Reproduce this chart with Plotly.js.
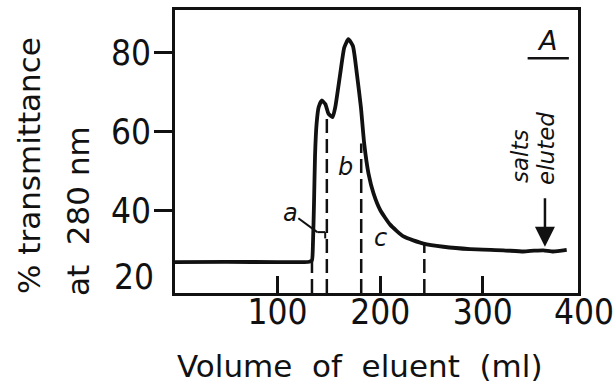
<!DOCTYPE html>
<html>
<head>
<meta charset="utf-8">
<script src="https://cdn.plot.ly/plotly-3.0.1.min.js"></script>
<style>html,body{margin:0;padding:0;background:#fff;}#chart{width:616px;height:388px;}</style>
</head>
<body>
<div id="chart"></div>
<script>
// Elution profile (volume in ml, % transmittance at 280 nm)
const volume = [0, 50, 100, 131, 133.5, 134.5, 135.5, 136.5, 138, 140, 143, 146.5, 149.7, 153.6, 156.2, 161, 165, 169, 173.4, 177.3, 181.2, 184.4, 188.6, 193.5, 200, 209.7, 222.7, 242.2, 261.6, 287.6, 320, 339.5, 350, 359, 368.7, 381.8];
const transmittance = [27.0, 27.1, 27.0, 27.1, 27.5, 32, 42, 54, 62, 66.2, 67.9, 67.0, 64.5, 63.7, 66.2, 74.6, 81.3, 83.4, 81.7, 74.6, 66.2, 57.0, 49.4, 44.4, 40.2, 36.5, 33.5, 31.7, 30.9, 30.3, 30.0, 29.7, 29.9, 30.0, 29.7, 30.1];
// Fraction cut positions (dashed lines) and the heights they reach
const cutVolume = [133.5, 148, 181.5, 243];
const cutTop = [27.3, 63.5, 57, 31.6];
const xTicks = [100, 200, 300];
const yTicks = [40, 60, 80];
const fractionLabels = ['a', 'b', 'c'];
const fractionLabelX = [112.4, 166, 200.7];
const fractionLabelY = [39.5, 51, 33.1];

const ink = '#111';
const numFont = 'Liberation Sans Narrow, DejaVu Sans Condensed, Arial Narrow, sans-serif';
const textFont = 'DejaVu Sans, sans-serif';
const yMin = 19.2, yMax = 90.8;

const traces = [];
cutVolume.forEach((v, i) => {
  traces.push({x: [v, v], y: [yMin, cutTop[i]], mode: 'lines', line: {color: ink, width: 2.5, dash: '14px,6px'}, hoverinfo: 'skip', showlegend: false});
});
traces.push({x: volume, y: transmittance, mode: 'lines', line: {color: ink, width: 3.8, shape: 'spline', smoothing: 0.5}, showlegend: false});

const C = {xanchor: 'center', yanchor: 'middle'};
const annotations = [];
fractionLabels.forEach((t, i) => {
  annotations.push(Object.assign({x: fractionLabelX[i], y: fractionLabelY[i], xref: 'x', yref: 'y', text: t, showarrow: false, font: {family: textFont, size: 24, color: ink, style: 'italic'}}, C));
});
annotations.push(Object.assign({x: 583.7, y: 311.5, xref: 'paper', yref: 'paper', text: '400', showarrow: false, font: {family: numFont, size: 35, color: ink}}, C));
annotations.push({x: 156, y: 277, xref: 'paper', yref: 'paper', xanchor: 'right', yanchor: 'middle', text: '20', showarrow: false, font: {family: numFont, size: 35, color: ink}});
annotations.push(Object.assign({x: 360, y: 366, xref: 'paper', yref: 'paper', text: 'Volume\u00A0 of\u00A0 eluent\u00A0 (ml)', showarrow: false, font: {family: textFont, size: 31, color: ink}}, C));
annotations.push({x: 363, y: 78.6, xref: 'x', yref: 'y', xanchor: 'center', yanchor: 'bottom', text: 'A', showarrow: false, font: {family: textFont, size: 27, color: ink, style: 'italic'}});
annotations.push(Object.assign({x: 336.3, y: 53.6, xref: 'x', yref: 'y', text: 'salts', textangle: -90, showarrow: false, font: {family: textFont, size: 23, color: ink, style: 'italic'}}, C));
annotations.push(Object.assign({x: 361.6, y: 55.9, xref: 'x', yref: 'y', text: 'eluted', textangle: -90, showarrow: false, font: {family: textFont, size: 23, color: ink, style: 'italic'}}, C));
annotations.push({x: 360.6, y: 30.9, xref: 'x', yref: 'y', ax: 0, ay: -50, text: '', showarrow: true, arrowhead: 2, arrowsize: 1.6, arrowwidth: 2.5, arrowcolor: ink});
annotations.push(Object.assign({x: 29, y: 166, xref: 'paper', yref: 'paper', text: '% transmittance', textangle: -90, showarrow: false, font: {family: textFont, size: 31, color: ink}}, C));
annotations.push(Object.assign({x: 78, y: 211, xref: 'paper', yref: 'paper', text: 'at\u00A0 280 nm', textangle: -90, showarrow: false, font: {family: textFont, size: 31, color: ink}}, C));

// convert pixel-placed paper annotations to paper fractions
const L = 175, R = 38, T = 10, B = 95, W = 616, H = 388;
const pw = W - L - R, ph = H - T - B;
annotations.forEach(a => {
  if (a.xref === 'paper') a.x = (a.x - L) / pw;
  if (a.yref === 'paper') a.y = (H - B - a.y) / ph;
});

const shapes = [
  {type: 'line', xref: 'x', yref: 'y', x0: 343.7, x1: 383.9, y0: 78.6, y1: 78.6, line: {color: ink, width: 2.5}},
  {type: 'line', xref: 'x', yref: 'y', x0: 120.2, x1: 138.7, y0: 38.1, y1: 34.6, line: {color: ink, width: 2}},
  {type: 'line', xref: 'x', yref: 'y', x0: 138.7, x1: 146.4, y0: 34.6, y1: 34.6, line: {color: ink, width: 2}},
  {type: 'line', xref: 'x', yref: 'y', x0: 146.4, x1: 146.4, y0: 34.6, y1: 33.0, line: {color: ink, width: 2}}
];

const layout = {
  width: W, height: H,
  margin: {l: L, r: R, t: T, b: B, pad: 0},
  paper_bgcolor: '#fff', plot_bgcolor: '#fff',
  showlegend: false,
  xaxis: {range: [0, 392.8], showgrid: false, zeroline: false, showline: true, mirror: true, linecolor: ink, linewidth: 3,
    ticks: 'inside', ticklen: 17, tickwidth: 3, tickcolor: ink, tickvals: xTicks, ticktext: xTicks.map(String),
    tickfont: {family: numFont, size: 35, color: ink}, ticklabelstandoff: -14},
  yaxis: {range: [yMin, yMax], showgrid: false, zeroline: false, showline: true, mirror: true, linecolor: ink, linewidth: 3,
    ticks: 'outside', ticklen: 18, tickwidth: 3, tickcolor: ink, tickvals: yTicks, ticktext: yTicks.map(String),
    tickfont: {family: numFont, size: 35, color: ink}, ticklabelstandoff: -4},
  annotations: annotations,
  shapes: shapes
};

Plotly.newPlot('chart', traces, layout, {staticPlot: true, displayModeBar: false});
</script>
</body>
</html>
